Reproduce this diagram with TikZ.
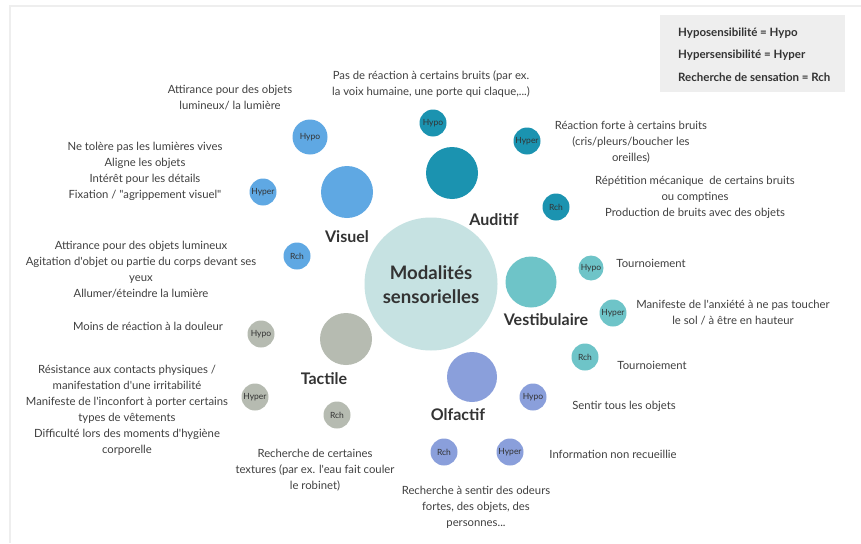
\documentclass[tikz,border=0pt]{standalone}
\usepackage{fontspec}
\setmainfont{Lato}[Ligatures=TeXOff]
\definecolor{framec}{HTML}{EEEEEE}
\definecolor{legc}{HTML}{EEEEEE}
\definecolor{txtc}{HTML}{404040}
\definecolor{labc}{HTML}{333333}
\definecolor{centc}{HTML}{C6E2E2}
\definecolor{visc}{HTML}{5FA8E3}
\definecolor{audc}{HTML}{1B93B0}
\definecolor{vesc}{HTML}{6EC4C8}
\definecolor{tacc}{HTML}{B6BBB1}
\definecolor{olfc}{HTML}{8A9FDB}
\begin{document}
\begin{tikzpicture}[x=1pt,y=-1pt,
  bigc/.style={circle, fill=#1, draw=none, minimum size=52pt, inner sep=0},
  smc/.style={circle, fill=#1, draw=none, minimum size=27pt, inner sep=0, text=labc, font=\fontsize{8.5}{10}\selectfont},
  cat/.style={font=\bfseries\fontsize{16}{18}\selectfont, text=labc, inner sep=0},
  desc/.style={align=center, font=\fontsize{11.3}{16}\selectfont, text=txtc, inner sep=0},
  leg/.style={anchor=west, font=\bfseries\fontsize{11.5}{12}\selectfont, text=labc, inner sep=0}]
\useasboundingbox (0,0) rectangle (861,543);
\fill[white] (0,0) rectangle (861,543);
\draw[framec, line width=1.5pt] (10,543) -- (10,6) -- (861,6);
% legend
\fill[legc] (660,15) rectangle (845,92);
\node[leg] (l1) at (678,33) {Hyposensibilité = Hypo};
\node[leg] (l2) at (678,55) {Hypersensibilité = Hyper};
\node[leg] (l3) at (678,77) {Recherche de sensation = Rch};
% center
\node[circle, fill=centc, minimum size=133pt, inner sep=0] (cen) at (431,284) {};
\node[align=center, font=\bfseries\fontsize{18.6}{24}\selectfont, text=labc, inner sep=0] (centxt) at (431,285) {Modalités\\sensorielles};
% Visuel
\node[bigc=visc] (vis) at (347,192) {};
\node[smc=visc, minimum size=35pt] (vhypo) at (310,137) {Hypo};
\node[smc=visc] (vhyper) at (263,192) {Hyper};
\node[smc=visc] (vrch) at (297,256) {Rch};
\node[cat] (visl) at (347,237) {Visuel};
% Auditif
\node[bigc=audc] (aud) at (452,173) {};
\node[smc=audc] (ahypo) at (433,123) {Hypo};
\node[smc=audc] (ahyper) at (527,141) {Hyper};
\node[smc=audc] (arch) at (556,207) {Rch};
\node[cat] (audl) at (494,220) {Auditif};
% Vestibulaire
\node[bigc=vesc, minimum size=51pt] (ves) at (531,282) {};
\node[smc=vesc, minimum size=25pt] (vshypo) at (591,268) {Hypo};
\node[smc=vesc] (vshyper) at (613,313) {Hyper};
\node[smc=vesc] (vsrch) at (585,357) {Rch};
\node[cat] (vesl) at (546,320) {Vestibulaire};
% Tactile
\node[bigc=tacc] (tac) at (346,339) {};
\node[smc=tacc] (thypo) at (261,334) {Hypo};
\node[smc=tacc] (thyper) at (255,397) {Hyper};
\node[smc=tacc] (trch) at (337,415) {Rch};
\node[cat] (tacl) at (324,379) {Tactile};
% Olfactif
\node[bigc=olfc, minimum size=50pt] (olf) at (472,377) {};
\node[smc=olfc] (ohypo) at (533,397) {Hypo};
\node[smc=olfc] (orch) at (444,452) {Rch};
\node[smc=olfc] (ohyper) at (510,452) {Hyper};
\node[cat] (olfl) at (458,415) {Olfactif};
% descriptions
\node[desc] (d1) at (230,98) {Attirance pour des objets\\lumineux/ la lumière};
\node[desc] (d2) at (145,171) {Ne tolère pas les lumières vives\\Aligne les objets\\Intérêt pour les détails\\Fixation / "agrippement visuel"};
\node[desc] (d3) at (141,270) {Attirance pour des objets lumineux\\Agitation d'objet ou partie du corps devant ses\\yeux\\Allumer/éteindre la lumière};
\node[desc] (d4) at (148,326) {Moins de réaction à la douleur};
\node[desc] (d5) at (127,410) {Résistance aux contacts physiques /\\manifestation d'une irritabilité\\Manifeste de l'inconfort à porter certains\\types de vêtements\\Difficulté lors des moments d'hygiène\\corporelle};
\node[desc] (d6) at (315,470) {Recherche de certaines\\textures (par ex. l'eau fait couler\\le robinet)};
\node[desc] (d7) at (476,507) {Recherche à sentir des odeurs\\fortes, des objets, des\\personnes...};
\node[desc] (d8) at (613,454) {Information non recueillie};
\node[desc] (d9) at (624,406) {Sentir tous les objets};
\node[desc] (d10) at (652,365) {Tournoiement};
\node[desc] (d11) at (733,313) {Manifeste de l'anxiété à ne pas toucher\\le sol / à être en hauteur};
\node[desc] (d12) at (651,263) {Tournoiement};
\node[desc] (d13) at (695,197) {Répétition mécanique~ de certains bruits\\ou comptines\\Production de bruits avec des objets};
\node[desc] (d14) at (631,142) {Réaction forte à certains bruits\\(cris/pleurs/boucher les\\oreilles)};
\node[desc] (d15) at (431,84) {Pas de réaction à certains bruits (par ex.\\la voix humaine, une porte qui claque,...)};
\end{tikzpicture}
\end{document}
